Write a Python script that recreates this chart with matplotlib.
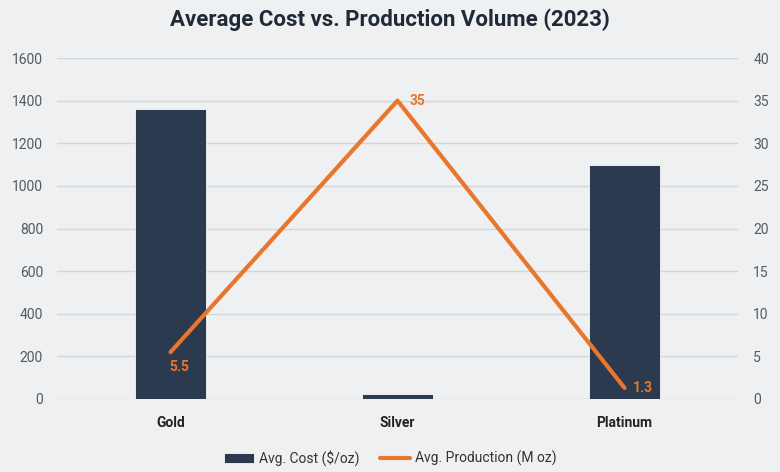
import matplotlib.pyplot as plt
import numpy as np

metals = ["Gold", "Silver", "Platinum"]
avg_cost = [1360, 24, 1100]
avg_production = [5.5, 35, 1.3]
production_labels = ["5.5", "35", "1.3"]

bg = "#eef0f1"
navy = "#2b3a4e"
orange = "#e8762c"
grey = "#555a60"

plt.rcParams["font.family"] = ["Roboto", "DejaVu Sans"]

fig = plt.figure(figsize=(7.8, 4.72), dpi=100, facecolor=bg)
ax = fig.add_axes([57 / 780, 1 - 399 / 472, 681 / 780, 341 / 472])
ax.set_facecolor(bg)
x = np.arange(len(metals))

ax.bar(x, avg_cost, width=0.315, color=navy, edgecolor="#f7f8f9", linewidth=0.6,
       label="Avg. Cost ($/oz)", zorder=2)
ax.set_ylim(0, 1600)
ax.set_yticks(np.arange(0, 1601, 200))
ax.set_xlim(-0.5, 2.5)
ax.set_xticks(x)
ax.set_xticklabels(metals, fontweight="bold", fontsize=10, color="#222222")
ax.grid(axis="y", color="#d3d6d9", linewidth=1, zorder=0)
ax.tick_params(axis="y", length=0, labelcolor=grey, labelsize=10, pad=10)
ax.tick_params(axis="x", length=0, pad=12)
for s in ax.spines.values():
    s.set_visible(False)

ax2 = ax.twinx()
ax2.plot(x, avg_production, color=orange, linewidth=3, label="Avg. Production (M oz)",
         solid_capstyle="round", zorder=3)
ax2.set_ylim(0, 40)
ax2.set_yticks(np.arange(0, 41, 5))
ax2.tick_params(axis="y", length=0, labelcolor=grey, labelsize=10, pad=11)
for s in ax2.spines.values():
    s.set_visible(False)
offsets = [(6, -11), (9, 0), (6, 0)]
aligns = ["center", "left", "left"]
for xi, v, lab, off, ha in zip(x, avg_production, production_labels, offsets, aligns):
    ax2.annotate(lab, (xi, v), xytext=off, textcoords="offset points", ha=ha,
                 color=orange, fontweight="bold", fontsize=10, va="center")

h1, l1 = ax.get_legend_handles_labels()
h2, l2 = ax2.get_legend_handles_labels()
fig.legend(h1 + h2, l1 + l2, loc="center", bbox_to_anchor=(0.5, 1 - 458 / 472), ncol=2,
           frameon=False, fontsize=10, handlelength=2.2, columnspacing=1.5,
           handletextpad=0.3, labelcolor="#333333")

fig.suptitle("Average Cost vs. Production Volume (2023)", y=1 - 20 / 472, va="center",
             fontsize=16, fontweight="bold", color="#1f2a36")

fig.savefig("out.png", dpi=100, facecolor=bg)
